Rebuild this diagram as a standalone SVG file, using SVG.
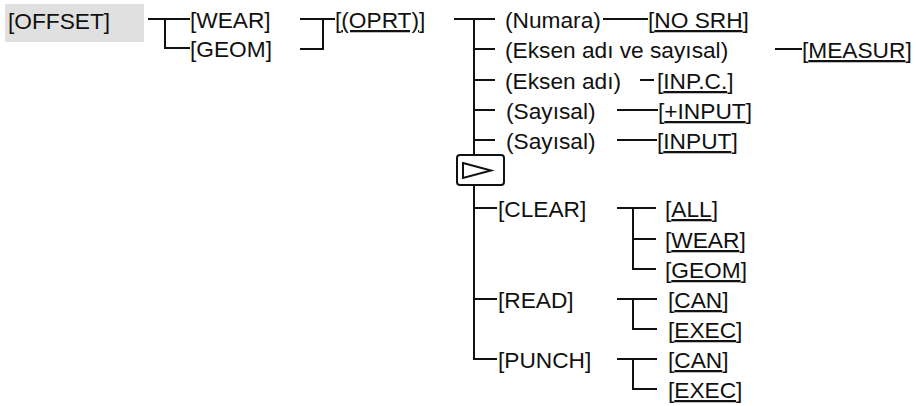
<svg xmlns="http://www.w3.org/2000/svg" width="916" height="406" viewBox="0 0 916 406">
<style>
text { font-family: "Liberation Sans", Arial, sans-serif; font-size: 22.7px; fill: #111; }
.u { text-decoration: underline; }
.c { stroke: #111; stroke-width: 2; fill: none; }
</style>
<rect width="916" height="406" fill="#fff"/>
<g id="offset"><rect x="5" y="4" width="139" height="38" fill="#e0e0e0"/><text x="8" y="29">[OFFSET]</text></g>
<g id="wear"><text x="190" y="28">[WEAR]</text></g>
<g id="geom"><text x="190" y="57">[GEOM]</text></g>
<g id="oprt"><text x="335" y="28">[<tspan class="u">(OPRT)</tspan>]</text></g>
<g id="numara"><text x="505" y="28">(Numara)</text></g>
<g id="nosrh"><text x="648" y="28">[<tspan class="u">NO SRH</tspan>]</text></g>
<g id="eksen-sayisal"><text x="505" y="58">(Eksen adı ve sayısal)</text></g>
<g id="measur"><text x="802" y="58">[<tspan class="u">MEASUR</tspan>]</text></g>
<g id="eksen"><text x="505" y="89">(Eksen adı)</text></g>
<g id="inpc"><text x="657" y="89">[<tspan class="u">INP.C.</tspan>]</text></g>
<g id="sayisal1"><text x="506" y="119">(Sayısal)</text></g>
<g id="plusinput"><text x="658" y="119">[<tspan class="u">+INPUT</tspan>]</text></g>
<g id="sayisal2"><text x="506" y="149">(Sayısal)</text></g>
<g id="input"><text x="657" y="149">[<tspan class="u">INPUT</tspan>]</text></g>
<g id="next"><rect class="c" x="457" y="155" width="47" height="30" rx="3"/><path class="c" d="M463,163 L491,170.5 L463,178 Z"/></g>
<g id="clear"><text x="498" y="217">[CLEAR]</text></g>
<g id="all"><text x="665" y="217">[<tspan class="u">ALL</tspan>]</text></g>
<g id="clear-wear"><text x="665" y="248">[<tspan class="u">WEAR</tspan>]</text></g>
<g id="clear-geom"><text x="665" y="278">[<tspan class="u">GEOM</tspan>]</text></g>
<g id="read"><text x="498" y="308">[READ]</text></g>
<g id="read-can"><text x="668" y="308">[<tspan class="u">CAN</tspan>]</text></g>
<g id="read-exec"><text x="668" y="338">[<tspan class="u">EXEC</tspan>]</text></g>
<g id="punch"><text x="498" y="368">[PUNCH]</text></g>
<g id="punch-can"><text x="668" y="368">[<tspan class="u">CAN</tspan>]</text></g>
<g id="punch-exec"><text x="668" y="398">[<tspan class="u">EXEC</tspan>]</text></g>
<g id="connectors" class="c">
<path d="M148,19 H190 M165,19 V48 H190"/>
<path d="M300,19 H335 M323,19 V49 H300"/>
<path d="M454,19 H495 M474,19 V155 M474,49 H495 M474,80 H495 M474,110 H495 M474,140 H495"/>
<path d="M474,185 V359 H497 M474,208 H497 M474,299 H497"/>
<path d="M603,19 H648 M775,49 H802 M640,80 H654 M617,110 H658 M617,140 H657"/>
<path d="M617,208 H656 M633,208 V269 H656 M633,239 H656"/>
<path d="M617,299 H657 M633,299 V329 H657"/>
<path d="M617,359 H657 M633,359 V389 H657"/>
</g>
</svg>
